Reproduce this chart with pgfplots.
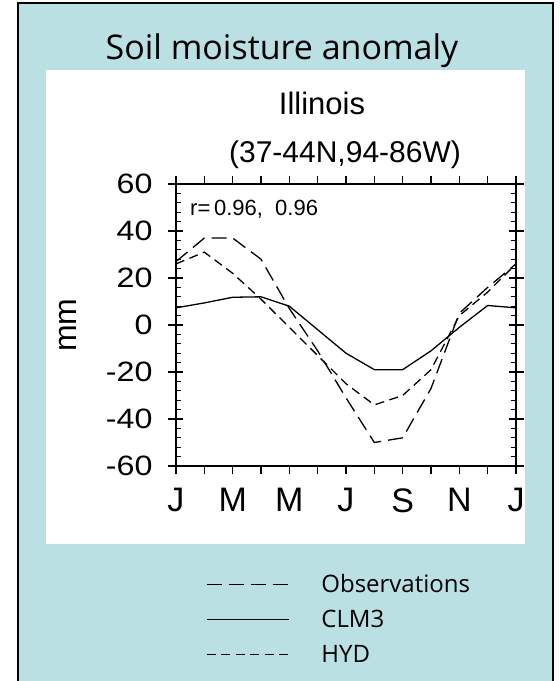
\documentclass[border=0pt]{standalone}
\usepackage{fontspec}
\setmainfont{Liberation Sans}
\newfontfamily\comic{Open Sans}
\newfontfamily\tickfont[FakeStretch=1.15]{Liberation Sans}
\usepackage{pgfplots}
\pgfplotsset{compat=1.18}
\definecolor{bgteal}{RGB}{186,224,227}
\begin{document}
\begin{tikzpicture}
\path[use as bounding box] (0pt,0pt) rectangle (560pt,681pt);
\fill[bgteal] (18pt,-5pt) rectangle (553pt,678pt);
\draw[line width=2.2pt] (18pt,-5pt) -- (18pt,678pt) -- (553pt,678pt) -- (553pt,-5pt);
\fill[white] (46pt,137pt) rectangle (525pt,611pt);
\node[font=\comic\fontsize{34}{40}\selectfont, anchor=base, inner sep=0pt] at (282pt,621pt) {Soil moisture anomaly};
\node[font=\fontsize{31}{36}\selectfont, anchor=base, inner sep=0pt] at (322pt,566pt) {Illinois};
\node[font=\fontsize{30}{36}\selectfont, anchor=base, inner sep=0pt] at (345pt,518pt) {(37-44N,94-86W)};
\node[font=\fontsize{22}{26}\selectfont, anchor=base west, inner sep=0pt] at (190pt,465pt) {r=\,0.96,\ \ 0.96};
\begin{axis}[
  at={(176pt,215pt)}, anchor=south west, scale only axis,
  width=340pt, height=282pt,
  xmin=0, xmax=12, ymin=-60, ymax=60,
  xtick={0,...,12},
  xticklabels={J,,M,,M,,J,,S,,N,,J},
  ytick={-60,-40,...,60},
  tick align=outside,
  major tick length=8pt,
  axis line style={line width=1.2pt},
  every tick/.style={black, line width=1.1pt},
  xticklabel style={font=\fontsize{34}{40}\selectfont, yshift=-11pt},
  yticklabel style={font=\tickfont\fontsize{28}{32}\selectfont, xshift=-12pt},
  /pgf/number format/assume math mode=true,
  ylabel={mm},
  every axis y label/.style={at={(axis description cs:-0.318,0.5)}, rotate=90, anchor=center, font=\fontsize{32}{36}\selectfont},
  legend image code/.code={\draw[#1] (0pt,0pt) -- (82pt,0pt);},
  legend style={at={(axis description cs:0.079,-0.37)}, anchor=north west, draw=none, fill=none,
    font=\comic\fontsize{24}{28}\selectfont, column sep=30pt, row sep=12pt,
    cells={anchor=west}},
]
\addplot[black, line width=1.3pt, dash pattern=on 15pt off 7pt] coordinates {
(0,27)(1,37)(2,37)(3,28)(4,7)(5,-11)(6,-31)(7,-50)(8,-48)(9,-27)(10,5)(11,16)(12,26)};
\addlegendentry{Observations}
\addplot[black, line width=1.3pt] coordinates {
(0,7.3)(1,9.4)(2,11.8)(3,12)(4,8)(5,-2)(6,-12)(7,-19)(8,-19)(9,-11)(10,-1)(11,8.3)(12,7.3)};
\addlegendentry{CLM3}
\addplot[black, line width=1.3pt, dash pattern=on 9pt off 5.5pt] coordinates {
(0,26)(1,31)(2,22)(3,11)(4,-1)(5,-13)(6,-25)(7,-34)(8,-30)(9,-19)(10,4)(11,14)(12,26)};
\addlegendentry{HYD}
\end{axis}
\begin{axis}[
  at={(176pt,215pt)}, anchor=south west, scale only axis,
  width=340pt, height=282pt,
  xmin=0, xmax=12, ymin=-60, ymax=60,
  axis line style={draw=none},
  xtick=\empty,
  ytick={-60,-40,...,60}, yticklabels={},
  minor y tick num=4,
  tick align=inside,
  major tick length=7pt, minor tick length=5pt,
  every tick/.style={black, line width=1.1pt},
]
\end{axis}
\end{tikzpicture}
\end{document}
